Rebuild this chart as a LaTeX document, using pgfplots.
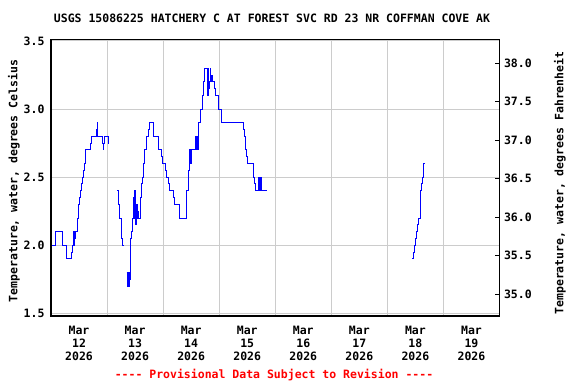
\documentclass[border=0pt]{standalone}
\usepackage{pgfplots}
\pgfplotsset{compat=1.18}
\usepackage{fontspec}
\newfontfamily\usgs{DejaVu Sans Mono}[UprightFont=* Bold]
\definecolor{gridgray}{RGB}{204,204,204}
\definecolor{usgsblue}{RGB}{0,0,255}
\tikzset{ln/.style={usgsblue, line width=0.9bp, const plot, mark=none}}
\begin{document}
\begin{tikzpicture}
\path[use as bounding box] (0bp,0bp) rectangle (576bp,384bp);
\begin{axis}[
  at={(51bp,68bp)}, anchor=south west,
  width=448.5bp, height=276.7bp, scale only axis,
  xmin=0, xmax=8, ymin=1.48, ymax=3.5125,
  font=\usgs\fontsize{11.5bp}{13bp}\selectfont,
  /pgf/number format/assume math mode=true,
  xtick={0.5,1.5,...,7.5},
  xticklabels={{Mar\\12\\2026},{Mar\\13\\2026},{Mar\\14\\2026},{Mar\\15\\2026},{Mar\\16\\2026},{Mar\\17\\2026},{Mar\\18\\2026},{Mar\\19\\2026}},
  xticklabel style={align=center, yshift=-7bp},
  minor xtick={1,2,...,7},
  xminorgrids, ymajorgrids,
  minor grid style={gridgray, line width=1bp},
  major grid style={gridgray, line width=1bp},
  ytick={1.5,2.0,...,3.5},
  yticklabel style={xshift=-3bp, /pgf/number format/.cd, fixed, fixed zerofill, precision=1},
  major tick length=0pt, minor tick length=0pt,
  axis line style={black, line width=1.2bp},
]
\addplot[ln] coordinates {
(0.012,2.0) (0.077,2.1) (0.202,2.0) (0.274,1.9) (0.369,1.95) (0.387,2.0) (0.399,2.1) (0.405,2.0) (0.411,2.1) (0.417,2.05) (0.429,2.1) (0.470,2.2) (0.488,2.3) (0.506,2.35) (0.524,2.4) (0.542,2.45) (0.560,2.5) (0.577,2.55) (0.595,2.6) (0.613,2.7) (0.702,2.75) (0.720,2.8) (0.810,2.85) (0.821,2.9) (0.833,2.8) (0.917,2.75) (0.929,2.7) (0.940,2.75) (0.952,2.8) (1.018,2.75) (1.042,2.75)
};
\addplot[ln] coordinates {
(1.185,2.4) (1.196,2.3) (1.220,2.2) (1.250,2.15) (1.262,2.05) (1.280,2.0) (1.292,2.0)
};
\addplot[ln] coordinates {
(1.351,1.8) (1.369,1.7) (1.381,1.8) (1.393,1.7) (1.405,1.75) (1.423,2.05) (1.440,2.1) (1.458,2.2) (1.470,2.35) (1.482,2.2) (1.488,2.4) (1.500,2.2) (1.512,2.15) (1.524,2.3) (1.536,2.2) (1.548,2.25) (1.554,2.2) (1.589,2.25) (1.601,2.35) (1.619,2.45) (1.637,2.5) (1.655,2.6) (1.673,2.7) (1.708,2.8) (1.738,2.85) (1.756,2.9) (1.833,2.8) (1.923,2.7) (1.970,2.65) (1.988,2.6) (2.036,2.55) (2.065,2.5) (2.095,2.45) (2.113,2.4) (2.185,2.35) (2.202,2.3) (2.292,2.2) (2.411,2.25) (2.423,2.4) (2.452,2.55) (2.470,2.7) (2.482,2.6) (2.500,2.7) (2.577,2.8) (2.589,2.7) (2.601,2.8) (2.613,2.7) (2.625,2.85) (2.637,2.9) (2.661,3.0) (2.696,3.1) (2.714,3.2) (2.732,3.3) (2.792,3.1) (2.804,3.3) (2.815,3.15) (2.827,3.2) (2.839,3.3) (2.851,3.2) (2.863,3.25) (2.875,3.2) (2.917,3.15) (2.935,3.1) (2.994,3.0) (3.042,2.9) (3.429,2.85) (3.446,2.8) (3.470,2.7) (3.488,2.65) (3.506,2.6) (3.619,2.5) (3.637,2.45) (3.655,2.4) (3.696,2.5) (3.708,2.4) (3.720,2.5) (3.732,2.4) (3.744,2.5) (3.750,2.4) (3.851,2.4)
};
\addplot[ln] coordinates {
(6.440,1.9) (6.458,1.95) (6.476,2.0) (6.494,2.05) (6.512,2.1) (6.530,2.15) (6.554,2.2) (6.583,2.25) (6.595,2.4) (6.613,2.45) (6.631,2.5) (6.649,2.6) (6.667,2.6)
};
\end{axis}
\begin{axis}[
  at={(51bp,68bp)}, anchor=south west,
  width=448.5bp, height=276.7bp, scale only axis,
  xmin=0, xmax=8, ymin=34.718, ymax=38.312,
  axis x line=none, axis y line*=right,
  font=\usgs\fontsize{11.5bp}{13bp}\selectfont,
  /pgf/number format/assume math mode=true,
  ytick={35.0,35.5,...,38.0},
  yticklabel style={xshift=1bp, /pgf/number format/.cd, fixed, fixed zerofill, precision=1},
  tick align=inside, major tick length=4bp,
  tick style={black, line width=0.8bp},
  axis line style={black, line width=1.2bp},
]
\addplot[draw=none] coordinates {(0,36)};
\end{axis}
\node[font=\usgs\fontsize{11.5bp}{13bp}\selectfont, rotate=90] at (14bp,203bp) {Temperature, water, degrees Celsius};
\node[font=\usgs\fontsize{11.5bp}{13bp}\selectfont, rotate=90] at (560bp,201bp) {Temperature, water, degrees Fahrenheit};
\node[font=\usgs\fontsize{11.5bp}{13bp}\selectfont] at (272bp,366bp) {USGS 15086225 HATCHERY C AT FOREST SVC RD 23 NR COFFMAN COVE AK};
\node[font=\usgs\fontsize{11.5bp}{13bp}\selectfont, text=red] at (274bp,9bp) {---- Provisional Data Subject to Revision ----};
\end{tikzpicture}
\end{document}
